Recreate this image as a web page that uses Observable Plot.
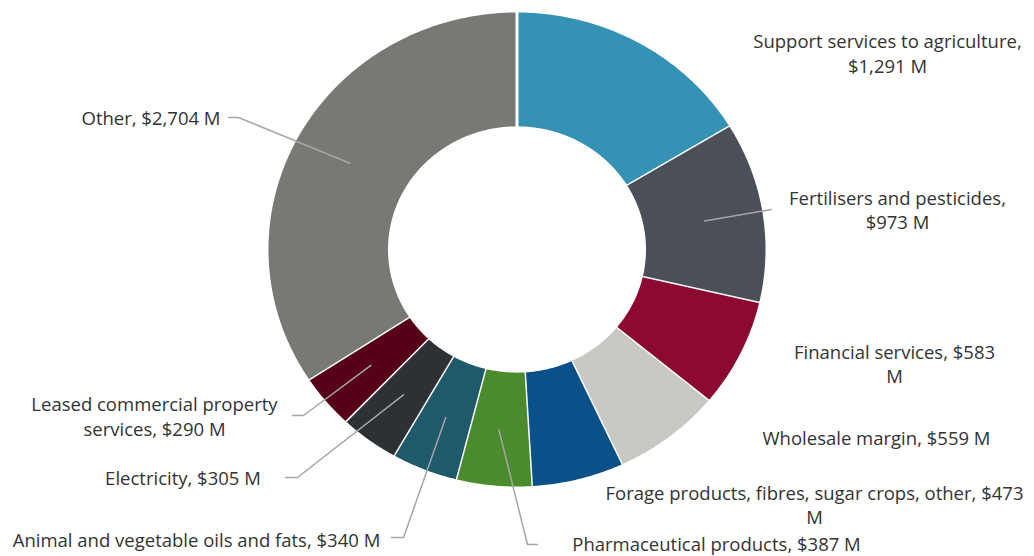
<!DOCTYPE html>
<html><head><meta charset="utf-8">
<script src="https://cdn.jsdelivr.net/npm/d3@7"></script>
<script src="https://cdn.jsdelivr.net/npm/@observablehq/plot@0.6"></script>
<style>body{margin:0;background:#fff;} svg{display:block}</style>
</head><body><div id="chart"></div>
<script>
// ---- data ----
const categories = ["Support services to agriculture", "Fertilisers and pesticides", "Financial services", "Wholesale margin", "Forage products, fibres, sugar crops, other", "Pharmaceutical products", "Animal and vegetable oils and fats", "Electricity", "Leased commercial property services", "Other"];
const values = [1291, 973, 583, 559, 473, 387, 340, 305, 290, 2704];
const unit = "M";

// ---- style ----
const colors = ["#3493b5", "#4b5058", "#8c0a2f", "#c8c8c5", "#0a5089", "#4a8b2c", "#1f5a6b", "#2d3136", "#56001a", "#777a74"];

// ---- layout ----
const W = 1034, H = 556;
const cx = 516.5, cy = 249, rx = 250, ry = 238.5, inner = 0.51, leaderR = 0.76;
const labelLayout = [
  {x: 887, y: 52, brk: "agriculture,"},
  {x: 897, y: 208.5, brk: "pesticides,", leader: [[771, 209]]},
  {x: 894, y: 362.5, brk: "$583"},
  {x: 876, y: 437},
  {x: 814, y: 503.5, brk: "$473"},
  {x: 716, y: 542.5, leader: [[527, 544], [537, 544]]},
  {x: 196, y: 538.5, leader: [[403, 537], [391, 537]]},
  {x: 182.5, y: 477, leader: [[297, 477], [285, 477]]},
  {x: 154, y: 415, brk: "property", leader: [[303, 415], [292, 415]]},
  {x: 150.5, y: 117, leader: [[238, 117], [228, 117]]}
];
const ux = px => (px - cx) / rx, uy = py => (py - cy) / ry;

const fmt = d3.format(",");
const pie = d3.pie().sort(null).value(d => d)(values);

const slicePts = [];
pie.forEach((p, i) => {
  const n = Math.max(2, Math.ceil((p.endAngle - p.startAngle) / 0.01));
  const ang = k => p.startAngle + (p.endAngle - p.startAngle) * k / n;
  for (let k = 0; k <= n; k++) { const a = ang(k); slicePts.push({name: categories[i], x: Math.sin(a), y: -Math.cos(a)}); }
  for (let k = n; k >= 0; k--) { const a = ang(k); slicePts.push({name: categories[i], x: inner * Math.sin(a), y: -inner * Math.cos(a)}); }
});

const leaderPts = [];
const labelData = [];
pie.forEach((p, i) => {
  const L = labelLayout[i];
  let text = `${categories[i]}, $${fmt(values[i])} ${unit}`;
  if (L.brk) text = text.replace(L.brk + " ", L.brk + "\n");
  labelData.push({text, x: ux(L.x), y: uy(L.y)});
  if (L.leader) {
    const m = (p.startAngle + p.endAngle) / 2;
    leaderPts.push({name: categories[i], x: leaderR * Math.sin(m), y: -leaderR * Math.cos(m)});
    L.leader.forEach(([px, py]) => leaderPts.push({name: categories[i], x: ux(px), y: uy(py)}));
  }
});

const chart = Plot.plot({
  width: W, height: H, margin: 0,
  x: {domain: [-1, 1], range: [cx - rx, cx + rx], axis: null},
  y: {domain: [-1, 1], range: [cy - ry, cy + ry], axis: null},
  color: {domain: categories, range: colors},
  style: {fontFamily: "'Open Sans', sans-serif", fontSize: "18px", color: "#333", background: "white"},
  marks: [
    Plot.line(slicePts, {x: "x", y: "y", z: "name", fill: "name", stroke: "white", strokeWidth: 3, strokeLinejoin: "round"}),
    Plot.line(leaderPts, {x: "x", y: "y", z: "name", stroke: "#a6a6a6", strokeWidth: 1.5}),
    Plot.text(labelData, {x: "x", y: "y", text: "text", fontSize: 18.5, fill: "#333", lineHeight: 1.32, textAnchor: "middle"})
  ]
});
document.getElementById("chart").append(chart);
</script>
</body></html>
